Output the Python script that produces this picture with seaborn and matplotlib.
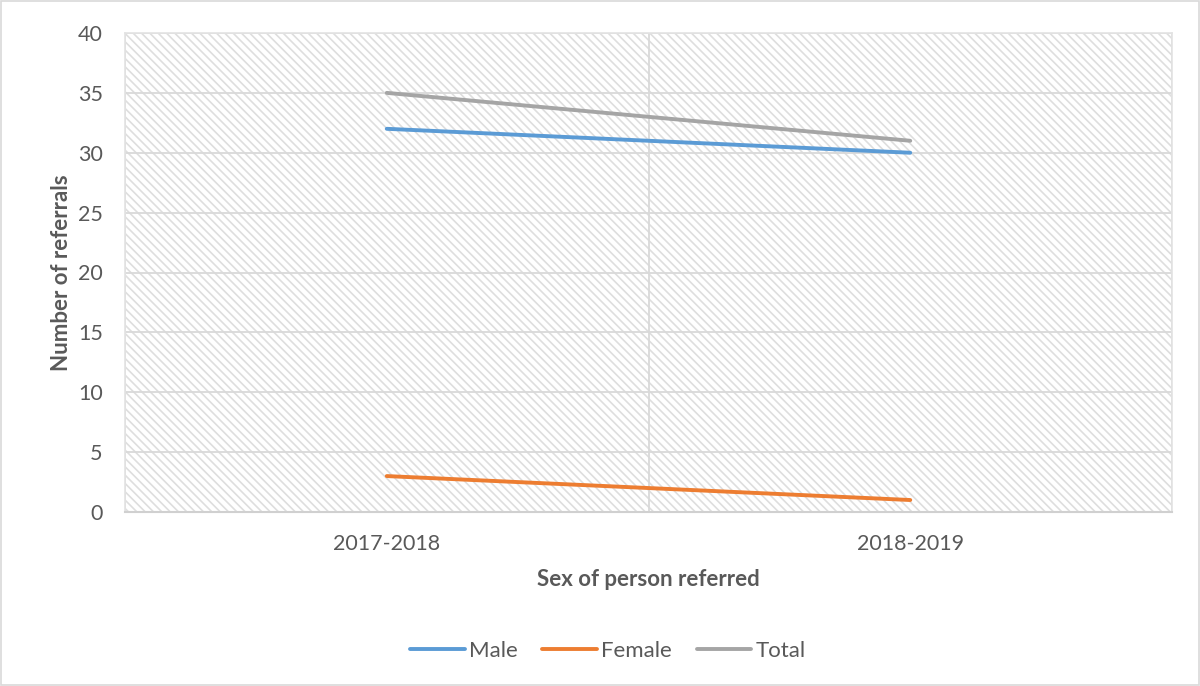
import matplotlib
matplotlib.use("Agg")
import matplotlib.pyplot as plt
from matplotlib.patches import Rectangle
import pandas as pd
import seaborn as sns

years = ["2017-2018", "2018-2019"]
male = [32, 30]
female = [3, 1]
total = [35, 31]

series_names = ["Male", "Female", "Total"]
series_colors = ["#5B9BD5", "#ED7D31", "#A5A5A5"]

df = pd.DataFrame({
    "year": years * 3,
    "value": male + female + total,
    "series": [s for s in series_names for _ in years],
})

sns.set_theme(style="white")
plt.rcParams["font.family"] = ["Lato", "DejaVu Sans"]
plt.rcParams["hatch.color"] = "#DEDEDE"
plt.rcParams["hatch.linewidth"] = 1.2

text_color = "#595959"
grid_color = "#D9D9D9"

fig = plt.figure(figsize=(12, 6.86), dpi=100)
ax = fig.add_axes([125 / 1200, 1 - 512 / 686, (1172 - 125) / 1200, (512 - 33) / 686])

# hatched plot area background
ax.patch.set_facecolor("white")
ax.add_patch(Rectangle((0, 0), 1, 1, transform=ax.transAxes, facecolor="white",
                       edgecolor="#DEDEDE", hatch="\\\\\\\\", linewidth=0, zorder=0))

sns.lineplot(data=df, x="year", y="value", hue="series", hue_order=series_names,
             palette=series_colors, linewidth=2.8, ax=ax, legend=False, zorder=3)

ax.set_xlim(-0.5, 1.5)
ax.set_ylim(0, 40)
ax.set_yticks(range(0, 41, 5))
ax.set_xticks([-0.5, 0.5, 1.5], minor=True)
ax.grid(True, axis="y", which="major", color=grid_color, linewidth=1.3, zorder=1)
ax.grid(True, axis="x", which="minor", color=grid_color, linewidth=1.3, zorder=1)
ax.grid(False, axis="x", which="major")
ax.set_axisbelow(True)

for side in ["left", "right", "top"]:
    ax.spines[side].set_color("#E3E3E3")
    ax.spines[side].set_linewidth(1.2)
ax.spines["bottom"].set_color("#D0D0D0")
ax.spines["bottom"].set_linewidth(1.5)

ax.tick_params(axis="both", which="both", length=0, labelsize=15.5, labelcolor=text_color)
ax.tick_params(axis="y", pad=16)
ax.tick_params(axis="x", pad=16)

ax.set_ylabel("Number of referrals", fontsize=16, fontweight="bold", color=text_color, labelpad=4)
ax.set_xlabel("Sex of person referred", fontsize=16, fontweight="bold", color=text_color, labelpad=11)

handles = [plt.Line2D([0], [0], color=c, linewidth=2.8) for c in series_colors]
fig.legend(handles, series_names, loc="center", bbox_to_anchor=(608 / 1200, 1 - 651 / 686),
           ncol=3, frameon=False, fontsize=16, labelcolor=text_color,
           handlelength=2.45, handletextpad=0.2, columnspacing=1.1)

fig.patches.append(Rectangle((0.001, 0.001), 0.998, 0.997, transform=fig.transFigure,
                             facecolor="none", edgecolor="#D9D9D9", linewidth=1.2))

fig.savefig("out.png", dpi=100, facecolor="white")
